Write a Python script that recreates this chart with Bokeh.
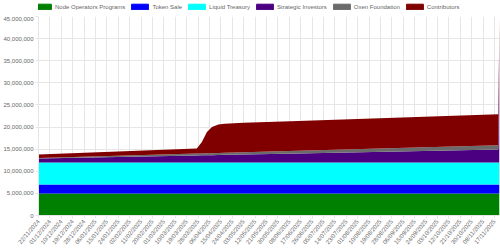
from datetime import datetime
from bokeh.plotting import figure
from bokeh.layouts import column
from bokeh.models import ColumnDataSource, Legend, LegendItem, Range1d, FixedTicker, NumeralTickFormatter
from bokeh.embed import file_html
from bokeh.resources import INLINE

# ---- data ----
dates = ["22/11/2024", "27/03/2025", "31/03/2025", "04/04/2025", "08/04/2025",
         "13/04/2025", "18/04/2025", "03/05/2025", "15/06/2025", "20/11/2025", "21/11/2025"]
node_operators = [5000000, 5000000, 5000000, 5000000, 5000000, 5000000, 5000000, 5000000, 5000000, 5000000, 5000000]
token_sale     = [2000000, 2000000, 2000000, 2000000, 2000000, 2000000, 2000000, 2000000, 2000000, 2000000, 2000000]
liquid_treas   = [5000000, 5000000, 5000000, 5000000, 5000000, 5000000, 5000000, 5000000, 5000000, 5000000, 5000000]
strategic      = [900000, 1590000, 1610000, 1630000, 1650000, 1680000, 1710000, 1790000, 2030000, 2900000, 27000000]
oxen_found     = [100000, 410000, 420000, 430000, 440000, 450000, 460000, 500000, 610000, 1000000, 1500000]
contributors   = [800000, 1140000, 2570000, 4840000, 5910000, 6470000, 6600000, 6710000, 6710000, 7000000, 4300000]

tick_labels = ["22/11/2024", "01/12/2024", "10/12/2024", "19/12/2024", "28/12/2024", "06/01/2025",
               "15/01/2025", "24/01/2025", "02/02/2025", "11/02/2025", "20/02/2025", "01/03/2025",
               "10/03/2025", "19/03/2025", "28/03/2025", "06/04/2025", "15/04/2025", "24/04/2025",
               "03/05/2025", "12/05/2025", "21/05/2025", "30/05/2025", "08/06/2025", "17/06/2025",
               "26/06/2025", "05/07/2025", "14/07/2025", "23/07/2025", "01/08/2025", "10/08/2025",
               "19/08/2025", "28/08/2025", "06/09/2025", "15/09/2025", "24/09/2025", "03/10/2025",
               "12/10/2025", "21/10/2025", "30/10/2025", "08/11/2025", "17/11/2025"]

series_names = ["Node Operators Programs", "Token Sale", "Liquid Treasury",
                "Strategic Investors", "Oxen Foundation", "Contributors"]
colors = ["#008000", "#0000ff", "#00ffff", "#4b0082", "#6b6b6b", "#800000"]

start = datetime.strptime(dates[0], "%d/%m/%Y")
def day_index(s):
    return (datetime.strptime(s, "%d/%m/%Y") - start).days

x = [day_index(d) for d in dates]
keys = ["n", "t", "l", "s", "o", "c"]
source = ColumnDataSource(dict(x=x, n=node_operators, t=token_sale, l=liquid_treas,
                               s=strategic, o=oxen_found, c=contributors))

FONT = "Liberation Sans"
TXT = "#666666"
GRID = "#e6e6e6"

# ---- main chart ----
p = figure(width=500, height=234, output_backend="svg", toolbar_location=None,
           x_range=Range1d(0, x[-1]), y_range=Range1d(0, 45000000),
           min_border_left=37, min_border_right=1, min_border_top=0, min_border_bottom=35)
p.outline_line_color = None

rs = p.varea_stack(stackers=keys, x="x", color=colors, source=source)

tick_pos = [day_index(t) for t in tick_labels]
p.xaxis.ticker = FixedTicker(ticks=tick_pos)
p.xaxis.major_label_overrides = {tp: lab for tp, lab in zip(tick_pos, tick_labels)}
p.xaxis.major_label_orientation = 0.8727
p.yaxis.ticker = FixedTicker(ticks=[0, 5000000, 10000000, 15000000, 20000000, 25000000,
                                    30000000, 35000000, 40000000, 45000000])
p.yaxis.formatter = NumeralTickFormatter(format="0,0")
for ax in (p.xaxis[0], p.yaxis[0]):
    ax.major_label_text_font = FONT
    ax.major_label_text_font_size = "6px"
    ax.major_label_text_color = TXT
    ax.axis_line_color = GRID
    ax.major_tick_line_color = GRID
    ax.major_tick_out = 3
    ax.major_tick_in = 0
    ax.minor_tick_line_color = None
    ax.major_label_standoff = 2
p.xgrid.grid_line_color = GRID
p.ygrid.grid_line_color = GRID

# ---- legend strip on top ----
lg = figure(width=500, height=16, output_backend="svg", toolbar_location=None,
            x_range=Range1d(0, 500), y_range=Range1d(0, 16),
            min_border=0, min_border_left=0, min_border_right=0,
            min_border_top=0, min_border_bottom=0,
            x_axis_type=None, y_axis_type=None)
lg.outline_line_color = None
lg.xgrid.visible = False
lg.ygrid.visible = False
lrs = [lg.rect(x=[-100], y=[-100], width=1, height=1, color=c) for c in colors]
items = [LegendItem(label=n, renderers=[r]) for n, r in zip(series_names, lrs)]
legend = Legend(items=items, orientation="horizontal", location=(-6, 6),
                glyph_width=21, glyph_height=7, label_height=7, label_standoff=2,
                spacing=4, padding=0, margin=0, border_line_color=None,
                background_fill_alpha=0,
                label_text_font=FONT, label_text_font_size="6px", label_text_color=TXT)
lg.add_layout(legend, "center")

open("out.html", "w").write(file_html(column(lg, p, spacing=0), INLINE))
